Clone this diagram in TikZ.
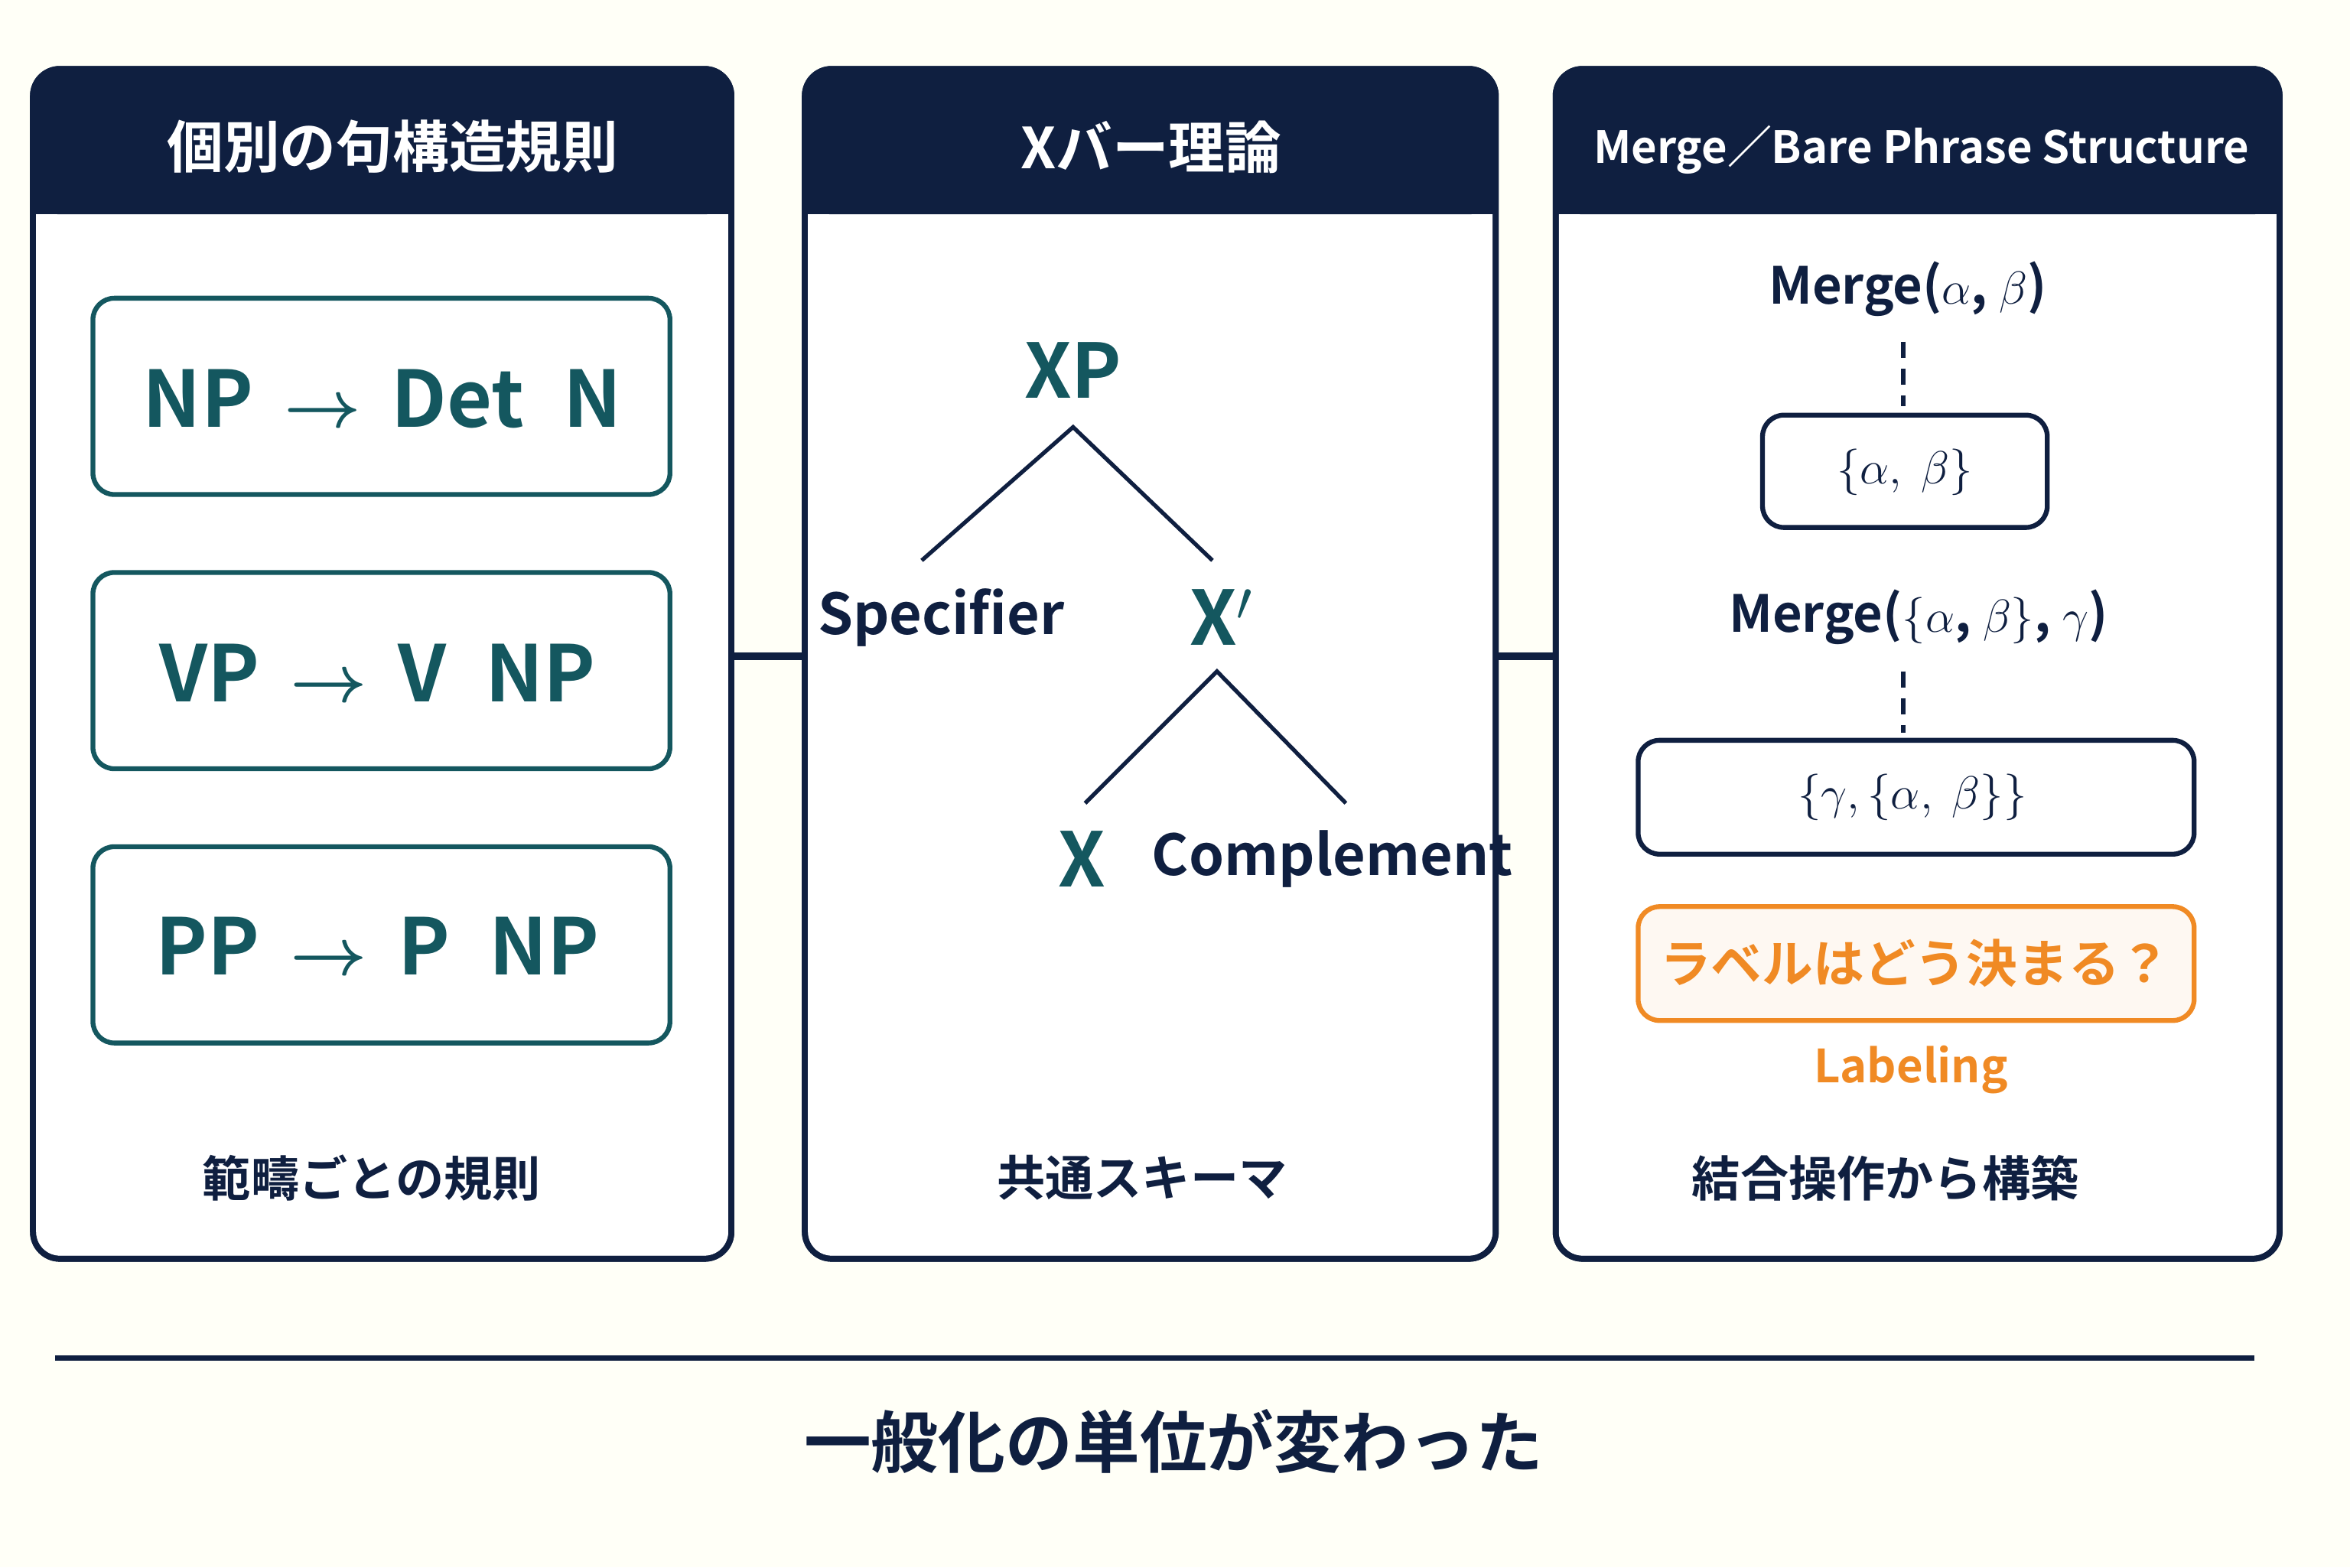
\documentclass[tikz,border=0pt]{standalone}
\usepackage{fontspec}
\setmainfont{Noto Sans CJK JP}[BoldFont={Noto Sans CJK JP Bold}]
\usepackage{amsmath}
\definecolor{navy}{HTML}{0F1F40}
\definecolor{teal}{HTML}{14575F}
\definecolor{orng}{HTML}{F08A24}
\begin{document}
\begin{tikzpicture}[x=0.0196cm,y=-0.0196cm,
 panel/.style={draw=navy,line width=2.2pt,rounded corners=10pt,fill=white},
 rule/.style={draw=teal,line width=1.8pt,rounded corners=8pt},
 rtxt/.style={text=teal,font=\bfseries\fontsize{29}{32}\selectfont},
 tl/.style={draw=navy,line width=1.5pt},
 mbox/.style={draw=navy,line width=1.8pt,rounded corners=8pt},
 mt/.style={text=navy,font=\bfseries\fontsize{19}{22}\selectfont},
 foot/.style={text=navy,font=\bfseries\fontsize{18}{22}\selectfont},
 hd/.style={text=white,font=\bfseries\fontsize{21}{24}\selectfont}]
\fill[white!97!yellow] (0,0) rectangle (1568,1046);
\useasboundingbox (0,0) rectangle (1568,1046);
% connectors
\coordinate (c1a) at (488,438); \coordinate (c1b) at (537,438);
\coordinate (c2a) at (998,438); \coordinate (c2b) at (1038,438);
\draw[navy,line width=3pt] (c1a)--(c1b) (c2a)--(c2b);
% panels
\foreach \n/\a/\b in {p1/22/488,p2/537/998,p3/1038/1521}{
 \draw[panel] (\a,46) rectangle (\b,840);
 \fill[navy,rounded corners=10pt] (\a,46) rectangle (\b,143);
 \fill[navy] (\a,110) rectangle (\b,143);
 \draw[navy,line width=2.2pt,rounded corners=10pt] (\a,46) rectangle (\b,840);
}
\node[hd] (h1) at (262,98) {個別の句構造規則};
\node[hd] (h2) at (768,98) {Xバー理論};
\node[hd,font=\bfseries\fontsize{16.5}{20}\selectfont] (h3) at (1282,100) {Merge／Bare Phrase Structure};
% panel1
\draw[rule] (62,199) rectangle (447,330);
\draw[rule] (62,382) rectangle (447,513);
\draw[rule] (62,565) rectangle (447,696);
\node[rtxt] (r1) at (255,266) {NP \,$\boldsymbol{\rightarrow}$\, Det\enspace N};
\node[rtxt] (r2) at (252,449) {VP \,$\boldsymbol{\rightarrow}$\, V\enspace NP};
\node[rtxt] (r3) at (252,631) {PP \,$\boldsymbol{\rightarrow}$\, P\enspace NP};
\node[foot] (f1) at (248,786) {範疇ごとの規則};
% panel2
\node[text=teal,font=\bfseries\fontsize{28}{30}\selectfont] (xp) at (716,247) {XP};
\node[text=navy,font=\bfseries\fontsize{21}{24}\selectfont] (spec) at (628,412) {Specifier};
\node[text=teal,font=\bfseries\fontsize{28}{30}\selectfont] (xb) at (815,412) {X$'$};
\node[text=teal,font=\bfseries\fontsize{28}{30}\selectfont] (x) at (722,573) {X};
\node[text=navy,font=\bfseries\fontsize{21}{24}\selectfont] (comp) at (889,573) {Complement};
\coordinate (t1) at (716,285); \coordinate (t2) at (615,374); \coordinate (t3) at (809,374);
\coordinate (t4) at (812,448); \coordinate (t5) at (724,536); \coordinate (t6) at (898,536);
\draw[tl] (t2)--(t1)--(t3); \draw[tl] (t5)--(t4)--(t6);
\node[foot] (f2) at (762,786) {共通スキーマ};
% panel3
\node[mt] (m1) at (1273,193) {Merge($\alpha$, $\beta$)};
\draw[mbox] (1176,277) rectangle (1366,352);
\node[mt] (s1) at (1271,315) {$\{\alpha,\ \beta\}$};
\node[mt] (m2) at (1280,412) {Merge($\{\alpha$, $\beta\}$, $\gamma$)};
\draw[mbox] (1093,494) rectangle (1464,570);
\node[mt] (s2) at (1276,532) {$\{\gamma,\{\alpha,\ \beta\}\}$};
\draw[navy,line width=1.8pt,dashed,dash pattern=on 6pt off 4pt] (1270,228)--(1270,271);
\draw[navy,line width=1.8pt,dashed,dash pattern=on 6pt off 4pt] (1270,448)--(1270,489);
\draw[draw=orng,line width=1.8pt,rounded corners=8pt,fill=orng!6] (1093,605) rectangle (1464,681);
\node[text=orng,font=\bfseries\fontsize{19}{22}\selectfont] (q) at (1278,643) {ラベルはどう決まる？};
\node[text=orng,font=\bfseries\fontsize{17}{20}\selectfont] (lab) at (1275,714) {Labeling};
\node[foot] (f3) at (1258,786) {結合操作から構築};
% bottom
\coordinate (la) at (37,906); \coordinate (lb) at (1504,906);
\draw[navy,line width=2pt] (la)--(lb);
\node[text=navy,font=\bfseries\fontsize{25}{28}\selectfont] (title) at (783,962) {一般化の単位が変わった};
\end{tikzpicture}
\end{document}
